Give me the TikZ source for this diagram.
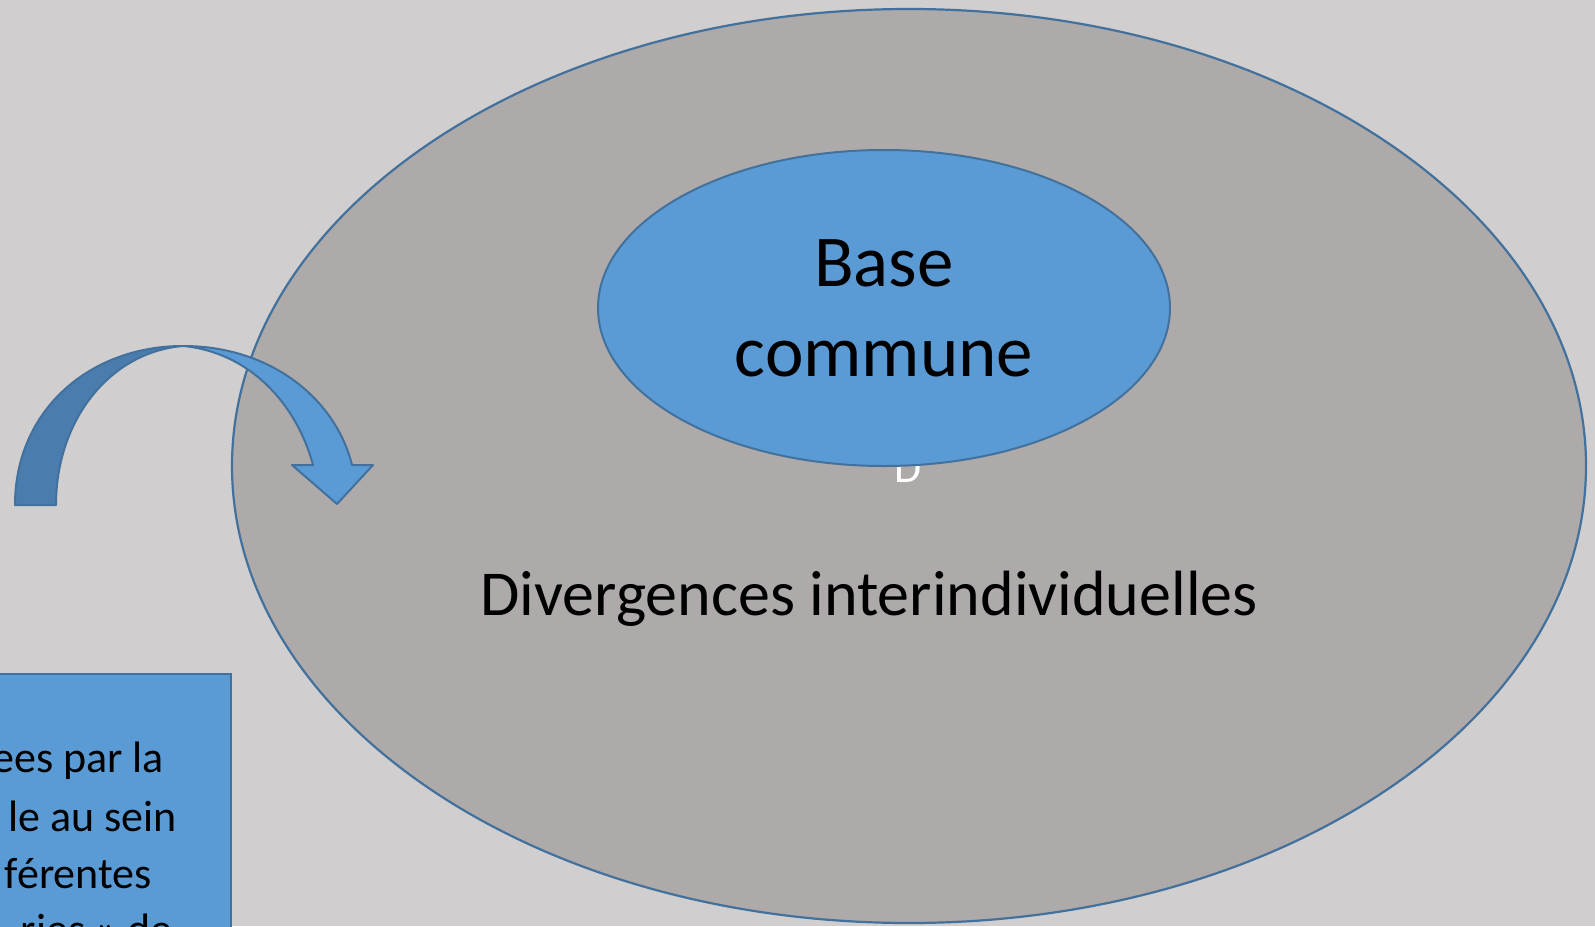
\documentclass[tikz,border=0pt]{standalone}
\usepackage{fontspec}
\setmainfont{Carlito}
\usetikzlibrary{shapes.geometric, positioning}

\definecolor{fond}{HTML}{D0CECE}
\definecolor{gris}{HTML}{AEAAAA}
\definecolor{bleu}{HTML}{5B9BD5}
\definecolor{bleufonce}{HTML}{4A7DAD}
\definecolor{trait}{HTML}{41719C}

\tikzset{
  grande/.style={ellipse, draw=trait, line width=2.2pt, fill=gris, minimum width=1354pt, minimum height=914pt, inner sep=0pt},
  petite/.style={ellipse, draw=trait, line width=2pt, fill=bleu, minimum width=572pt, minimum height=316pt, inner sep=0pt, align=center, font=\fontsize{73}{90}\selectfont},
  boite/.style={rectangle, draw=trait, line width=2pt, fill=bleu, minimum width=290pt, minimum height=300pt, inner sep=0pt},
  ligne/.style={anchor=base east, inner sep=0pt, font=\fontsize{44}{57}\selectfont},
  fleche/.style={draw=trait, line width=2pt, line join=round}
}

\begin{document}
\begin{tikzpicture}[x=1pt, y=-1pt]

    % Fond de la page
    \fill[fond] (0,0) rectangle (1595,926);
    \useasboundingbox (0,0) rectangle (1595,926);
    \clip (0,0) rectangle (1595,926);

    % Grande ellipse
    \node[grande] (grande) at (909,466) {};

    % Texte blanc cache sous la petite ellipse
    \node[anchor=base, text=white, inner sep=0pt, font=\fontsize{44}{53}\selectfont] (lettre) at (908,482) {D};

    % Petite ellipse
    \node[petite] (base) at (884,308) {Base\\commune};

    % Texte de la grande ellipse
    \node[anchor=base, inner sep=0pt, font=\fontsize{64}{77}\selectfont] (divergences) at (869,615) {Divergences interindividuelles};

    % Boite de gauche
    \node[boite, anchor=north east] (boite) at (232,673) {};
    \foreach \n/\yy/\xx/\txt in {1/772/164/ees par la, 2/831/177/le au sein, 3/888/152/férentes, 4/944/173/ries » de} {
        \node[ligne] (ligne\n) at (\xx,\yy) {\txt};
    }

    % Fleche courbe : partie arriere
    \filldraw[fleche, fill=bleufonce] (15,505) .. controls (15,410) and (90,346) .. (183,346)
        .. controls (110,352) and (56,420) .. (56,505) -- cycle;

    % Fleche courbe : partie avant avec la pointe
    \filldraw[fleche, fill=bleu] (183,346) .. controls (272,346) and (336,400) .. (352,465)
        -- (373,465) -- (337,504) -- (292,465) -- (313,465)
        .. controls (296,402) and (248,352) .. (183,346) -- cycle;

\end{tikzpicture}
\end{document}
